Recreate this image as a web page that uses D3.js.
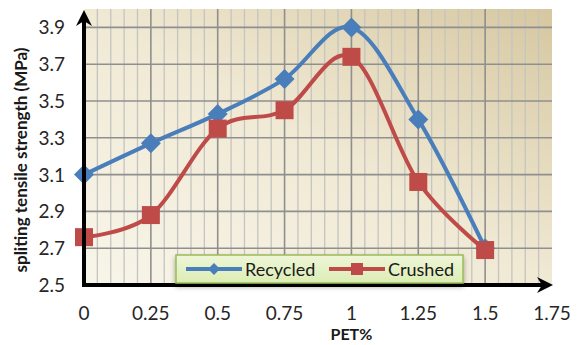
<!DOCTYPE html>
<html>
<head>
<meta charset="utf-8">
<script src="https://cdn.jsdelivr.net/npm/d3@7"></script>
<style>
  body { margin: 0; background: #fff; }
  svg { display: block; font-family: Lato, "Open Sans", sans-serif; }
</style>
</head>
<body>
<svg width="579" height="345"></svg>
<script>
var pet = [0, 0.25, 0.5, 0.75, 1, 1.25, 1.5]
var recycled = [3.10, 3.27, 3.43, 3.62, 3.90, 3.40, 2.70]
var crushed = [2.76, 2.88, 3.35, 3.45, 3.74, 3.06, 2.69]
var xTicks = [0, 0.25, 0.5, 0.75, 1, 1.25, 1.5, 1.75]
var yTicks = [2.5, 2.7, 2.9, 3.1, 3.3, 3.5, 3.7, 3.9]

var svg = d3.select("svg"),
    pL = 84, pR = 552, pT = 9, pB = 285

var x = d3.scaleLinear().domain([0, 1.75]).range([pL, pR])
var y = d3.scaleLinear().domain([2.5, 4.0]).range([pB, pT])

var defs = svg.append("defs")
var bg = defs.append("linearGradient").attr("id", "bg")
  .attr("x1", "0").attr("y1", "1").attr("x2", "1").attr("y2", "0")
bg.append("stop").attr("offset", "0").attr("stop-color", "#f8f5ea")
bg.append("stop").attr("offset", "0.5").attr("stop-color", "#f0e9d4")
bg.append("stop").attr("offset", "1").attr("stop-color", "#d6c7a0")

var lg = defs.append("linearGradient").attr("id", "lg")
  .attr("x1", "0").attr("y1", "0").attr("x2", "0").attr("y2", "1")
lg.append("stop").attr("offset", "0").attr("stop-color", "#eef6d8")
lg.append("stop").attr("offset", "1").attr("stop-color", "#dcedb4")

var sh = defs.append("filter").attr("id", "sh")
  .attr("x", "-10%").attr("y", "-30%").attr("width", "120%").attr("height", "180%")
sh.append("feDropShadow").attr("dx", 0).attr("dy", 3).attr("stdDeviation", 2.5)
  .attr("flood-color", "#000").attr("flood-opacity", 0.35)

// plot background
svg.append("rect").attr("x", pL).attr("y", pT)
  .attr("width", pR - pL).attr("height", pB - pT)
  .attr("fill", "url(#bg)")

// vertical grid: minor every 0.05, major every 0.25
var g = svg.append("g")
g.selectAll(".vminor").data(d3.range(1, 35).map(function(i) { return i * 0.05 }))
  .enter().append("line")
  .attr("x1", function(d) { return x(d) }).attr("x2", function(d) { return x(d) })
  .attr("y1", pT).attr("y2", pB)
  .attr("stroke", function(d, i) { return (i + 1) % 5 == 0 ? "#8f8f8f" : "#c4c4c0" })
  .attr("stroke-width", function(d, i) { return (i + 1) % 5 == 0 ? 1.6 : 1.3 })

g.selectAll(".hgrid").data(yTicks.slice(1))
  .enter().append("line")
  .attr("x1", pL).attr("x2", pR)
  .attr("y1", function(d) { return y(d) }).attr("y2", function(d) { return y(d) })
  .attr("stroke", "#8f8f8f").attr("stroke-width", 1.6)

// series
var line = d3.line()
  .x(function(d) { return x(d[0]) })
  .y(function(d) { return y(d[1]) })
  .curve(d3.curveCardinal.tension(0))

var recData = pet.map(function(p, i) { return [p, recycled[i]] })
var cruData = pet.map(function(p, i) { return [p, crushed[i]] })

svg.append("path").datum(recData)
  .attr("fill", "none").attr("stroke", "#4a7ebb").attr("stroke-width", 4)
  .attr("d", line)

svg.append("path").datum(cruData)
  .attr("fill", "none").attr("stroke", "#be4b48").attr("stroke-width", 4)
  .attr("d", line)

svg.selectAll(".dia").data(recData).enter().append("path")
  .attr("transform", function(d) { return "translate(" + x(d[0]) + "," + y(d[1]) + ")" })
  .attr("d", "M0,-10L10,0L0,10L-10,0Z")
  .attr("fill", "#4a7ebb")

svg.selectAll(".sq").data(cruData).enter().append("rect")
  .attr("x", function(d) { return x(d[0]) - 9 })
  .attr("y", function(d) { return y(d[1]) - 9 })
  .attr("width", 18).attr("height", 18)
  .attr("fill", "#be4b48")

// axes lines with arrows
svg.append("line").attr("x1", pL).attr("x2", pL)
  .attr("y1", pB + 2).attr("y2", pT + 8)
  .attr("stroke", "#000").attr("stroke-width", 4)
svg.append("path")
  .attr("d", "M" + pL + "," + (pT + 1) + "L" + (pL + 8) + "," + (pT + 17) +
    "L" + pL + "," + (pT + 12) + "L" + (pL - 8) + "," + (pT + 17) + "Z")
  .attr("fill", "#000")
svg.append("line").attr("x1", pL - 2).attr("x2", pR - 8)
  .attr("y1", pB).attr("y2", pB)
  .attr("stroke", "#000").attr("stroke-width", 4)
svg.append("path")
  .attr("d", "M" + (pR + 1) + "," + pB + "L" + (pR - 15) + "," + (pB - 8) +
    "L" + (pR - 10) + "," + pB + "L" + (pR - 15) + "," + (pB + 8) + "Z")
  .attr("fill", "#000")

// tick labels
svg.selectAll(".xt").data(xTicks).enter().append("text")
  .attr("x", function(d) { return x(d) }).attr("y", 320)
  .attr("text-anchor", "middle").attr("font-size", 19).attr("fill", "#262626")
  .text(function(d) { return d })

svg.selectAll(".yt").data(yTicks).enter().append("text")
  .attr("x", 65).attr("y", function(d) { return y(d) + 7 })
  .attr("text-anchor", "end").attr("font-size", 19).attr("fill", "#262626")
  .text(function(d) { return d.toFixed(1) })

svg.append("text").attr("x", x(1)).attr("y", 340)
  .attr("text-anchor", "middle").attr("font-size", 16).attr("font-weight", "bold")
  .attr("fill", "#1a1a1a").text("PET%")

svg.append("text")
  .attr("transform", "translate(27," + 160 + ") rotate(-90)")
  .attr("text-anchor", "middle").attr("font-size", 17).attr("font-weight", "bold")
  .attr("fill", "#1a1a1a").text("spliting tensile strength (MPa)")

// legend
var leg = svg.append("g").attr("transform", "translate(176,255)")
leg.append("rect").attr("width", 287).attr("height", 28)
  .attr("fill", "url(#lg)").attr("stroke", "#9bbb59").attr("stroke-width", 1.5)
  .attr("filter", "url(#sh)")

var items = [
  {name: "Recycled", color: "#4a7ebb", shape: "dia", x: 10},
  {name: "Crushed", color: "#be4b48", shape: "sq", x: 153}
]
items.forEach(function(it) {
  var gi = leg.append("g").attr("transform", "translate(" + it.x + ",14)")
  gi.append("line").attr("x1", 0).attr("x2", 56).attr("stroke", it.color).attr("stroke-width", 4)
  if (it.shape == "dia") {
    gi.append("path").attr("d", "M28,-6L34,0L28,6L22,0Z").attr("fill", it.color)
  } else {
    gi.append("rect").attr("x", 22).attr("y", -6).attr("width", 12).attr("height", 12).attr("fill", it.color)
  }
  gi.append("text").attr("x", 59).attr("y", 6.5).attr("font-size", 18).attr("fill", "#1a1a1a")
    .text(it.name)
})
</script>
</body>
</html>
